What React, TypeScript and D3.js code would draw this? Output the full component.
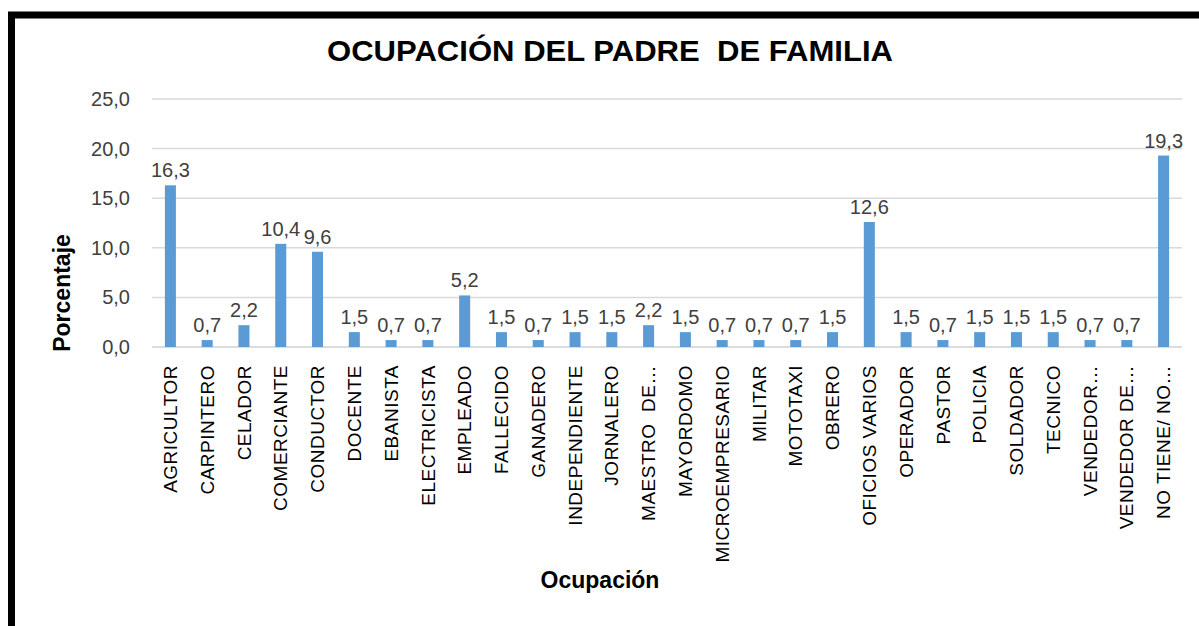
import * as React from "react";
import * as d3 from "d3";

const CATEGORIES = [
  "AGRICULTOR",
  "CARPINTERO",
  "CELADOR",
  "COMERCIANTE",
  "CONDUCTOR",
  "DOCENTE",
  "EBANISTA",
  "ELECTRICISTA",
  "EMPLEADO",
  "FALLECIDO",
  "GANADERO",
  "INDEPENDIENTE",
  "JORNALERO",
  "MAESTRO  DE…",
  "MAYORDOMO",
  "MICROEMPRESARIO",
  "MILITAR",
  "MOTOTAXI",
  "OBRERO",
  "OFICIOS VARIOS",
  "OPERADOR",
  "PASTOR",
  "POLICIA",
  "SOLDADOR",
  "TECNICO",
  "VENDEDOR…",
  "VENDEDOR DE…",
  "NO TIENE/ NO…",
];

const VALUES = [
  16.3, 0.7, 2.2, 10.4, 9.6, 1.5, 0.7, 0.7, 5.2, 1.5, 0.7, 1.5, 1.5, 2.2, 1.5,
  0.7, 0.7, 0.7, 1.5, 12.6, 1.5, 0.7, 1.5, 1.5, 1.5, 0.7, 0.7, 19.3,
];

const Y_TICKS = [0, 5, 10, 15, 20, 25];

const TITLE = "OCUPACIÓN DEL PADRE  DE FAMILIA";
const Y_TITLE = "Porcentaje";
const X_TITLE = "Ocupación";

const fmt = (v: number) => v.toFixed(1).replace(".", ",");

export default function App() {
  const width = 1199;
  const height = 626;
  const plot = { left: 152, right: 1182, top: 99, bottom: 347 };

  const x = d3
    .scaleBand<string>()
    .domain(CATEGORIES)
    .range([plot.left, plot.right])
    .paddingInner(0.7)
    .paddingOuter(0.35);

  const y = d3.scaleLinear().domain([0, 25]).range([plot.bottom, plot.top]);

  const font = "Arial, 'Liberation Sans', sans-serif";
  const barColor = "#5b9bd5";
  const textColor = "#404040";

  return (
    <svg
      width={width}
      height={height}
      style={{ position: "absolute", left: 0, top: 0, background: "#fff" }}
      fontFamily={font}
    >
      <rect x={0} y={0} width={width} height={height} fill="#fff" />
      <rect
        x={11.5}
        y={15}
        width={width + 20}
        height={height + 20}
        fill="none"
        stroke="#000"
        strokeWidth={7}
      />

      <text
        x={610}
        y={61}
        textAnchor="middle"
        fontSize={30}
        fontWeight="bold"
        fill="#000"
        textLength={566}
        lengthAdjust="spacingAndGlyphs"
        style={{ whiteSpace: "pre" }}
      >
        {TITLE}
      </text>

      {Y_TICKS.map((t) => (
        <g key={t}>
          {t > 0 && (
            <line
              x1={plot.left}
              x2={plot.right}
              y1={y(t)}
              y2={y(t)}
              stroke="#d9d9d9"
              strokeWidth={1.5}
            />
          )}
          <text
            x={130}
            y={y(t)}
            dy="0.35em"
            textAnchor="end"
            fontSize={20}
            fill={textColor}
          >
            {fmt(t)}
          </text>
        </g>
      ))}

      <line
        x1={plot.left}
        x2={plot.right}
        y1={plot.bottom}
        y2={plot.bottom}
        stroke="#d0d0d0"
        strokeWidth={1.5}
      />

      {CATEGORIES.map((c, i) => {
        const bx = x(c) ?? 0;
        const v = VALUES[i];
        const cx = bx + x.bandwidth() / 2;
        return (
          <g key={c}>
            <rect
              x={bx}
              y={y(v)}
              width={x.bandwidth()}
              height={plot.bottom - y(v)}
              fill={barColor}
            />
            <text
              x={cx}
              y={y(v) - 8}
              textAnchor="middle"
              fontSize={20}
              fill={textColor}
            >
              {fmt(v)}
            </text>
            <text
              transform={`translate(${cx},${plot.bottom + 18}) rotate(-90)`}
              textAnchor="end"
              dy="0.35em"
              fontSize={19}
              letterSpacing={0.5}
              fill="#000"
              style={{ whiteSpace: "pre" }}
            >
              {c}
            </text>
          </g>
        );
      })}

      <text
        transform={`translate(62,293) rotate(-90)`}
        textAnchor="middle"
        dy="0.35em"
        fontSize={23}
        fontWeight="bold"
        fill="#000"
      >
        {Y_TITLE}
      </text>

      <text
        x={600}
        y={588}
        textAnchor="middle"
        fontSize={23}
        fontWeight="bold"
        fill="#000"
      >
        {X_TITLE}
      </text>
    </svg>
  );
}
